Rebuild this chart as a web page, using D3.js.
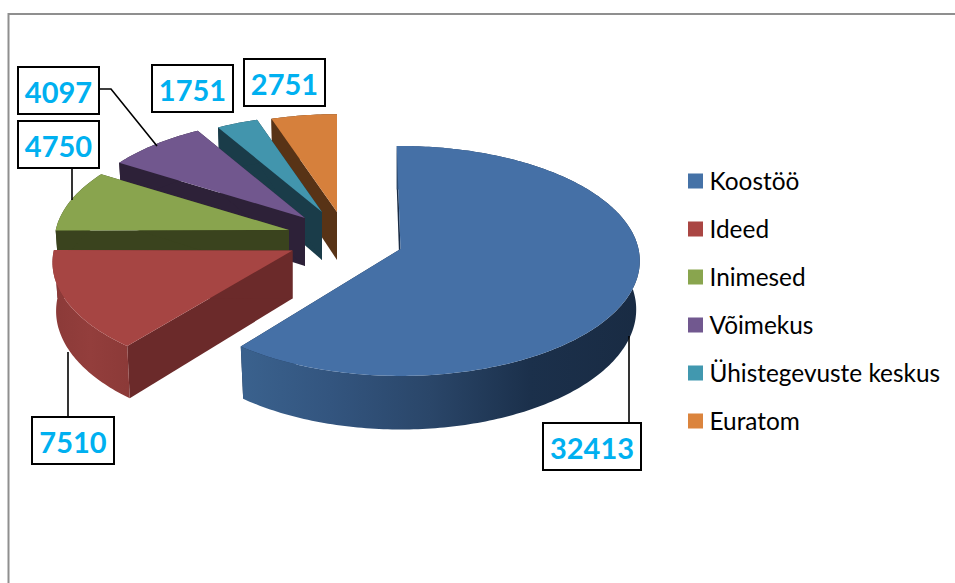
<!DOCTYPE html>
<html>
<head>
<meta charset="utf-8">
<script src="https://d3js.org/d3.v7.min.js"></script>
<style>
html,body{margin:0;padding:0;background:#fff;overflow:hidden}
svg{display:block}
</style>
</head>
<body>
<svg id="chart" width="955" height="583"></svg>
<script>
// data
const categories = ["Koostöö","Ideed","Inimesed","Võimekus","Ühistegevuste keskus","Euratom"];
const values = [32413,7510,4750,4097,1751,2751];
const topColors = ["#4570a6","#a64543","#89a44e","#71578e","#4295ad","#d6803c"];
const faceColors = ["#1a2c45","#6b2a2a","#3a431e","#2d2138","#1a3c49","#583316"];
const legendColors = ["#4572a7","#aa4643","#89a54e","#71588f","#4198af","#db843d"];

// layout of the exploded 3-D pie
const apexX = [400.5,292.5,289,305,322,337];
const apexY = [249,250.5,230,218,212,212];
const radiusScale = [1,1.003,0.98,0.97,0.94,0.95];
const rotation = [-1,0.5,0,0,0,0];
const rx = 238, ry = 113.7, persp = 0.104, depth = 48, baseShrink = 0.015;

const labelBoxes = [[543,423],[32,417],[18,121],[18,67],[152,65],[244,59]];
const leaders = [
  [[629,423],[629,336]],
  [[68,417],[68,352]],
  [[72,168],[72,200]],
  [[99,89],[111,89],[157,146]],
  [],[]
];
const boxWidths = [98,82,81,81,81,81];
const boxH = 47;

const svg = d3.select("#chart");
const defs = svg.append("defs");

// frame
svg.append("path").attr("d","M8.5,583V14H955").attr("fill","none")
  .attr("stroke","#8f8f8f").attr("stroke-width",2);

const color = d3.scaleOrdinal().domain(categories).range(topColors);
const face = d3.scaleOrdinal().domain(categories).range(faceColors);
const legendY = d3.scalePoint().domain(categories).range([181,421]);

const arcs = d3.pie().sort(null).value(d=>d).startAngle(0).endAngle(2*Math.PI)(values);

function project(i,theta,h){
  const t = theta + rotation[i]*Math.PI/180;
  const v = -Math.cos(t), s = 1/(1-persp*v), k = radiusScale[i];
  const shrink = 1 - baseShrink*h/depth;
  return [apexX[i]+rx*k*Math.sin(t)*s*shrink, apexY[i]+ry*k*v*s+h*s];
}
function apex(i,h){ return [apexX[i],apexY[i]+h]; }
const line = d3.line();
function rim(i,a,b,h){
  const n = Math.max(4,Math.ceil(Math.abs(b-a)*60));
  return d3.range(n+1).map(j=>project(i,a+(b-a)*j/n,h));
}

// blue / red curved walls carry a horizontal gradient
const wallStops = {
  0:[[245,"#3a618d"],[330,"#33557f"],[430,"#2a4669"],[530,"#1b304b"],[640,"#192b43"]],
  1:[[52,"#8b3a38"],[90,"#933e3c"],[127,"#8c3a38"]]
};
Object.keys(wallStops).forEach(k=>{
  const st = wallStops[k];
  const g = defs.append("linearGradient").attr("id","wall"+k)
    .attr("gradientUnits","userSpaceOnUse")
    .attr("x1",st[0][0]).attr("x2",st[st.length-1][0]).attr("y1",0).attr("y2",0);
  st.forEach(s=>g.append("stop")
    .attr("offset",(s[0]-st[0][0])/(st[st.length-1][0]-st[0][0]))
    .attr("stop-color",s[1]));
});

// back slices first
const order = d3.range(arcs.length).reverse();
const slices = svg.selectAll("g.slice").data(order).join("g").attr("class","slice");
slices.each(function(i){
  const g = d3.select(this), d = arcs[i], name = categories[i];
  const a = d.startAngle, b = d.endAngle;
  // radial walls
  [a,b].forEach(t=>{
    g.append("path")
      .attr("d",line([apex(i,0),project(i,t,0),project(i,t,depth),apex(i,depth)])+"Z")
      .attr("fill",face(name));
  });
  // outer wall
  g.append("path")
    .attr("d",line(rim(i,a,b,0).concat(rim(i,b,a,depth)))+"Z")
    .attr("fill",wallStops[i]?`url(#wall${i})`:face(name));
  // top
  g.append("path")
    .attr("d",line([apex(i,0)].concat(rim(i,a,b,0)))+"Z")
    .attr("fill",color(name));
});

// leaders
svg.selectAll("path.leader").data(leaders.filter(l=>l.length)).join("path")
  .attr("class","leader").attr("d",line).attr("fill","none")
  .attr("stroke","#000").attr("stroke-width",1.6);

// data labels
const labels = svg.selectAll("g.label").data(values).join("g").attr("class","label")
  .attr("transform",(d,i)=>`translate(${labelBoxes[i][0]},${labelBoxes[i][1]})`);
labels.append("rect").attr("width",(d,i)=>boxWidths[i]).attr("height",boxH)
  .attr("fill","#fff").attr("stroke","#000").attr("stroke-width",2);
labels.append("text").text(d=>d)
  .attr("x",(d,i)=>boxWidths[i]/2).attr("y",boxH/2+12.5)
  .attr("text-anchor","middle").attr("font-family","Lato").attr("font-weight",700)
  .attr("font-size",29).attr("fill","#00b0f0");

// legend
const legend = svg.selectAll("g.legend").data(categories).join("g").attr("class","legend")
  .attr("transform",d=>`translate(688,${legendY(d)})`);
legend.append("rect").attr("y",-7.5).attr("width",15).attr("height",15)
  .attr("fill",(d,i)=>legendColors[i]);
legend.append("text").text(d=>d).attr("x",21.5).attr("y",9)
  .attr("font-family","Lato").attr("font-size",24.4).attr("fill","#000");
</script>
</body>
</html>
